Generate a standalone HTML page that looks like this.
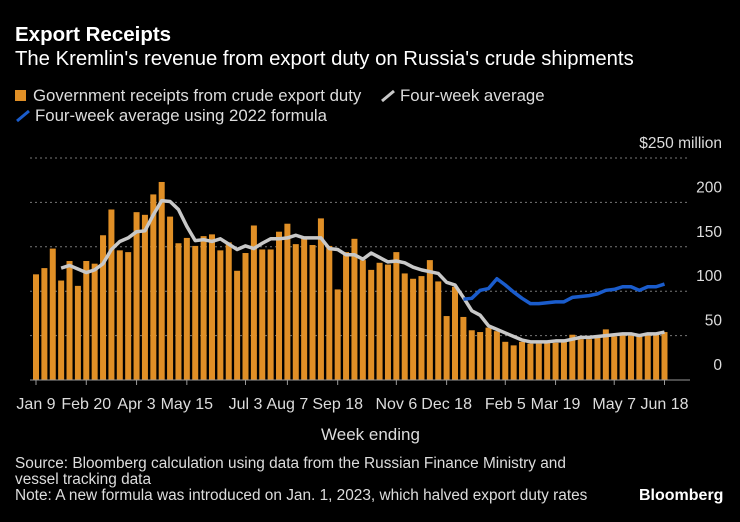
<!DOCTYPE html>
<html><head><meta charset="utf-8"><style>
html,body{margin:0;padding:0;background:#000;width:740px;height:522px;overflow:hidden}
body{font-family:"Liberation Sans",sans-serif;color:#fff;position:relative}
.t{position:absolute;white-space:nowrap}
</style></head><body>
<div class="t" style="left:15px;top:23px;font-size:20.5px;font-weight:bold">Export Receipts</div>
<div class="t" style="left:15px;top:48px;font-size:20.3px">The Kremlin's revenue from export duty on Russia's crude shipments</div>
<div class="t" style="left:15px;top:86px;font-size:16.8px;color:#ddd"><span style="display:inline-block;width:11px;height:11px;background:#e08f26;margin-right:7px"></span>Government receipts from crude export duty</div>
<div class="t" style="left:380px;top:86px;font-size:16.8px;color:#ddd"><svg width="16" height="14" style="vertical-align:-2px;margin-right:4px"><line x1="2" y1="12" x2="14" y2="2" stroke="#c8c8c8" stroke-width="3"/></svg>Four-week average</div>
<div class="t" style="left:15px;top:106px;font-size:16.8px;color:#ddd"><svg width="16" height="14" style="vertical-align:-2px;margin-right:4px"><line x1="2" y1="12" x2="14" y2="2" stroke="#1a5ccc" stroke-width="3"/></svg>Four-week average using 2022 formula</div>
<svg id="chart" width="740" height="522" style="position:absolute;left:0;top:0"></svg>
<div class="t" style="left:321px;top:425px;font-size:17px;color:#ddd">Week ending</div>
<div class="t" style="left:15px;top:456px;font-size:15.4px;color:#ddd;line-height:16px">Source: Bloomberg calculation using data from the Russian Finance Ministry and<br>vessel tracking data<br>Note: A new formula was introduced on Jan. 1, 2023, which halved export duty rates</div>
<div class="t" style="left:639px;top:487px;font-size:16px;font-weight:bold">Bloomberg</div>
<script>
const receipts=[119,126,148,112,134,106,134,131,163,192,146,144,189,186,209,223,184,154,160,151,162,164,146,155,123,143,174,147,147,167,176,153,160,152,182,151,102,144,159,135,124,132,130,144,120,114,117,135,111,72,105,71,56,54,59,55,43,39,43,41,41,42,42,43,51,46,46,48,57,49,51,50,49,53,53,54];
const avgStart=3;
const avg=[126,129,125,121,124,131,147,156,160,167,168,186,202,201,192,173,157,158,156,159,153,147,151,148,154,159,159,160,163,160,160,160,148,147,141,141,136,143,138,133,134,132,127,124,122,120,110,107,93,78,73,61,57,53,49,45,43,43,43,44,44,46,48,48,49,50,51,52,52,50,52,52,54];
const blueStart=51;
const avg2022=[91,92,101,103,114,107,99,92,86,86,87,88,88,93,94,95,97,101,102,105,105,101,105,105,108];
const yTicks=[0,50,100,150,200,250];
const xLabels=[[0,"Jan 9"],[6,"Feb 20"],[12,"Apr 3"],[18,"May 15"],[25,"Jul 3"],[30,"Aug 7"],[36,"Sep 18"],[43,"Nov 6"],[49,"Dec 18"],[56,"Feb 5"],[62,"Mar 19"],[69,"May 7"],[75,"Jun 18"]];
const NS="http://www.w3.org/2000/svg",svg=document.getElementById('chart');
const X=i=>36+i*8.38, Y=v=>380-v*(222/250);
function mk(t,a){const e=document.createElementNS(NS,t);for(const k in a)e.setAttribute(k,a[k]);svg.appendChild(e);return e;}
yTicks.forEach(v=>{
 if(v>0){const g=mk('line',{x1:30,x2:690,y1:Y(v),y2:Y(v),stroke:'#777','stroke-dasharray':'2,3','stroke-width':1});
 
 }
 const t=mk('text',{x:722,y:Y(v)-10,'text-anchor':'end','font-size':15.5,fill:'#ddd'});
 t.textContent=v===250?'$250 million':String(v);
 
 
});
receipts.forEach((v,i)=>{
 const r=mk('rect',{x:X(i)-3,y:Y(v),width:6,height:380-Y(v),fill:'#e08f26'});
 
 
});
const base=mk('line',{x1:30,x2:690,y1:380,y2:380,stroke:'#999','stroke-width':1});


xLabels.forEach(([i,l])=>{
 const tk=mk('line',{x1:X(i),x2:X(i),y1:380,y2:385,stroke:'#999'});
 
 
 const t=mk('text',{x:X(i),y:409,'text-anchor':'middle','font-size':16,fill:'#ddd'});
 t.textContent=l;
 
 
});
const p1=mk('polyline',{points:avg.map((v,k)=>X(k+avgStart)+','+Y(v)).join(' '),fill:'none',stroke:'#c8c8c8','stroke-width':3.5,'stroke-linejoin':'round'});


const p2=mk('polyline',{points:avg2022.map((v,k)=>X(k+blueStart)+','+Y(v)).join(' '),fill:'none',stroke:'#1a5ccc','stroke-width':3.5,'stroke-linejoin':'round'});


</script>
</body></html>
